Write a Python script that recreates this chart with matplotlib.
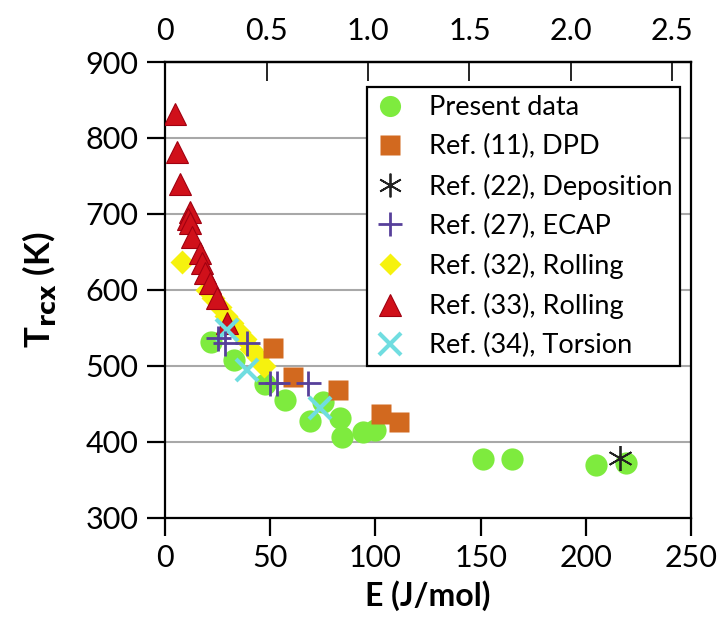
import matplotlib.pyplot as plt
from matplotlib.ticker import FixedLocator, FuncFormatter

plt.rcParams['font.family'] = ['Lato', 'DejaVu Sans']

# Present data
present_E = [22, 33, 47.5, 57, 69, 75, 83, 84, 94, 100, 151, 165, 205, 219]
present_T = [532, 508, 476, 455, 428, 453, 431, 407, 413, 416, 377, 377, 370, 372]

# Ref. (11), DPD
dpd_E = [51.5, 61, 82, 102.5, 111]
dpd_T = [523, 486, 468, 436, 426]

# Ref. (22), Deposition
dep_E = [216.5]
dep_T = [379]

# Ref. (27), ECAP
ecap_E = [25, 28.5, 39, 50, 53, 68]
ecap_T = [537, 530, 530, 477, 477, 477]

# Ref. (32), Rolling
roll32_E = [7.9, 20, 23, 26, 29, 32, 35, 38, 41, 44, 47]
roll32_T = [637, 600, 590, 578, 566, 556, 545, 535, 522, 512, 500]

# Ref. (33), Rolling
roll33_E = [4.75, 5.5, 7.1, 11.9, 11, 11.9, 12.7, 16.6, 17.4, 19, 21.4, 24.6, 29.3]
roll33_T = [832, 782, 740, 703, 694, 688, 670, 648, 635, 622, 609, 589, 556]

# Ref. (34), Torsion
tor_E = [29.3, 38.8, 73.7]
tor_T = [547, 495, 445]

J_PER_MEV = 96.485

fig = plt.figure(figsize=(7.19, 6.33), dpi=100)
ax = fig.add_axes([0.2295, 0.182, 0.7315, 0.72])

ax.plot(present_E, present_T, 'o', color='#7EEB3E', ms=16, mec='none', label='Present data', zorder=3)
ax.plot(dpd_E, dpd_T, 's', color='#D2691F', ms=15, mec='none', label='Ref. (11), DPD', zorder=5)
ax.plot(dep_E, dep_T, marker=(6, 2, 0), ls='none', color='#222222', ms=18, mew=1.3,
        label='Ref. (22), Deposition', zorder=7)
ax.plot(ecap_E, ecap_T, '+', color='#57409A', ms=18, mew=2, label='Ref. (27), ECAP', zorder=7)
ax.plot(roll32_E, roll32_T, 'D', color='#F6F20E', ms=12, mec='none', label='Ref. (32), Rolling', zorder=4)
ax.plot(roll33_E, roll33_T, '^', color='#D0101A', ms=16, mec='#A00010', mew=0.8,
        label='Ref. (33), Rolling', zorder=4.5)
ax.plot(tor_E, tor_T, 'x', color='#70DDE0', ms=16, mew=3, label='Ref. (34), Torsion', zorder=6)

ax.set_xlim(0, 250)
ax.set_ylim(300, 900)
ax.set_xticks([0, 50, 100, 150, 200, 250])
ax.set_yticks([300, 400, 500, 600, 700, 800, 900])
ax.yaxis.grid(True, color='#A8A8A8', lw=1.5)
ax.set_axisbelow(True)

for s in ax.spines.values():
    s.set_linewidth(1.6)
ax.tick_params(axis='both', direction='out', length=13, width=1.6, labelsize=22, pad=6)

ax.set_xlabel('E (J/mol)', fontsize=23, fontweight='bold', labelpad=6)
ax.set_ylabel(r'T$_{\mathbf{rcx}}$ (K)', fontsize=25, fontweight='bold', labelpad=20)

top = ax.secondary_xaxis('top', functions=(lambda e: e / J_PER_MEV, lambda m: m * J_PER_MEV))
top.xaxis.set_major_locator(FixedLocator([0, 0.5, 1.0, 1.5, 2.0, 2.5]))
top.xaxis.set_major_formatter(FuncFormatter(lambda v, p: '0' if v == 0 else f'{v:.1f}'))
top.tick_params(direction='in', length=14, width=1.2, labelsize=22, pad=12)
top.spines['top'].set_linewidth(1.6)

leg = ax.legend(loc='upper right', bbox_to_anchor=(0.98, 0.945), fontsize=19.5, frameon=True,
                fancybox=False, edgecolor='black', framealpha=1, handletextpad=0.9,
                handlelength=1.1, labelspacing=0.52, borderpad=0.3, borderaxespad=0,
                markerscale=0.95)
leg.get_frame().set_linewidth(1.6)

fig.savefig('out.png', dpi=100)
